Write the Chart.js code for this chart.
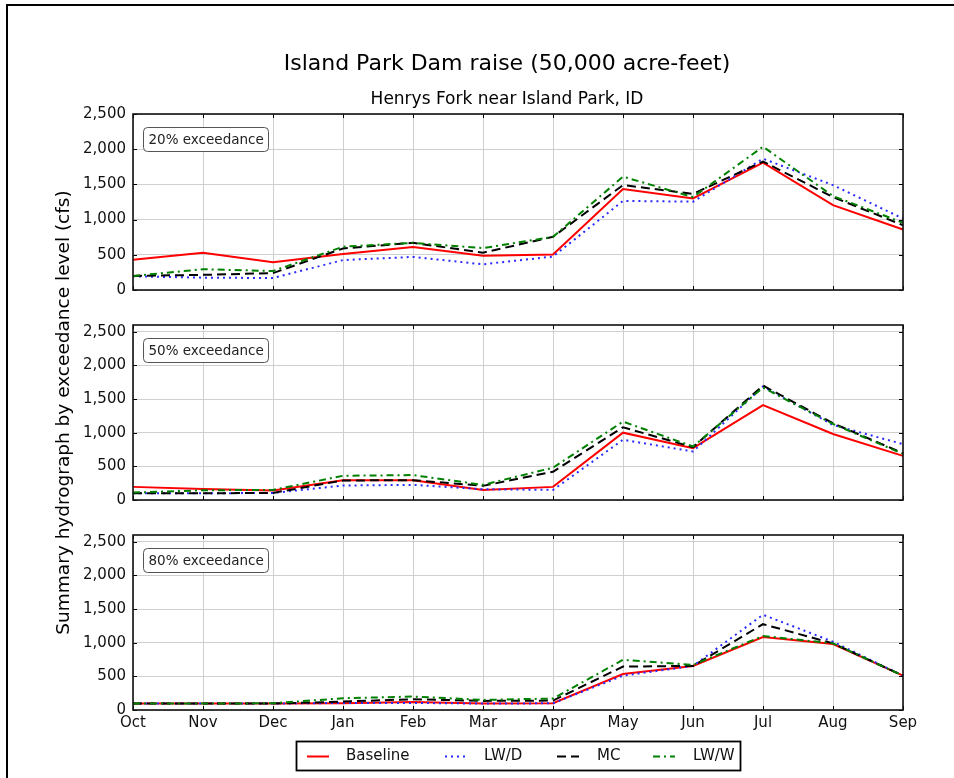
<!DOCTYPE html>
<html>
<head>
<meta charset="utf-8">
<title>Island Park Dam raise</title>
<script src="https://cdn.jsdelivr.net/npm/chart.js@4/dist/chart.umd.min.js"></script>
<style>
  html, body { margin: 0; padding: 0; background: #fff; }
  #wrap { position: relative; width: 954px; height: 778px; overflow: hidden; background: #fff; }
  #wrap canvas { position: absolute; left: 0; top: 0; }
  #frame { position: absolute; left: 6px; top: 4px; width: 1000px; height: 800px;
           border-left: 2px solid #000; border-top: 2px solid #000; }
</style>
</head>
<body>
<div id="wrap">
  <div id="frame"></div>
  <canvas id="c20" width="954" height="778"></canvas>
  <canvas id="c50" width="954" height="778"></canvas>
  <canvas id="c80" width="954" height="778"></canvas>
</div>
<script>
// ---- data -------------------------------------------------------------
const months = ['Oct', 'Nov', 'Dec', 'Jan', 'Feb', 'Mar', 'Apr', 'May', 'Jun', 'Jul', 'Aug', 'Sep'];
const seriesNames = ['Baseline', 'LW/D', 'MC', 'LW/W'];
const panelLabels = ['20% exceedance', '50% exceedance', '80% exceedance'];
const yTicks = [0, 500, 1000, 1500, 2000, 2500];
const figureTitle = 'Island Park Dam raise (50,000 acre-feet)';
const figureSubtitle = 'Henrys Fork near Island Park, ID';
const yAxisTitle = 'Summary hydrograph by exceedance level (cfs)';

// 20% exceedance (cfs)
const p20Baseline = [430, 530, 395, 510, 610, 485, 505, 1435, 1300, 1810, 1205, 860];
const p20LWD      = [195, 175, 170, 425, 470, 365, 475, 1265, 1255, 1865, 1490, 1015];
const p20MC       = [200, 215, 240, 590, 670, 530, 755, 1490, 1365, 1825, 1320, 920];
const p20LWW      = [200, 295, 270, 615, 670, 595, 755, 1610, 1320, 2035, 1335, 955];

// 50% exceedance (cfs)
const p50Baseline = [195, 165, 140, 295, 295, 150, 195, 1000, 770, 1410, 980, 655];
const p50LWD      = [100, 100, 105, 215, 225, 160, 150, 895, 720, 1685, 1115, 830];
const p50MC       = [100, 100, 105, 290, 295, 210, 420, 1080, 785, 1700, 1140, 695];
const p50LWW      = [110, 145, 150, 360, 370, 225, 480, 1165, 795, 1670, 1130, 685];

// 80% exceedance (cfs)
const p80Baseline = [95, 95, 95, 100, 120, 95, 100, 535, 655, 1085, 980, 510];
const p80LWD      = [95, 95, 95, 105, 105, 95, 100, 510, 655, 1415, 1015, 510];
const p80MC       = [95, 95, 95, 125, 160, 135, 140, 645, 655, 1275, 990, 510];
const p80LWW      = [95, 95, 100, 175, 200, 150, 170, 745, 670, 1100, 990, 510];

// ---- styling ----------------------------------------------------------
const FONT = "'DejaVu Sans', 'Liberation Sans', sans-serif";
Chart.defaults.font.family = FONT;
Chart.defaults.color = '#000';

const seriesStyles = [
  { borderColor: '#ff0000', borderDash: [],            borderWidth: 2,   order: 3 },
  { borderColor: '#2a2aff', borderDash: [2, 4],        borderWidth: 2,   order: 2 },
  { borderColor: '#000000', borderDash: [9, 5],        borderWidth: 2,   order: 1 },
  { borderColor: '#008000', borderDash: [7, 4, 2, 4],  borderWidth: 2,   order: 0 }
];

function makeDatasets(values) {
  return values.map((vals, i) => Object.assign({
    label: seriesNames[i],
    data: vals,
    fill: false,
    tension: 0,
    pointRadius: 0,
    borderCapStyle: 'butt',
    borderJoinStyle: 'miter'
  }, seriesStyles[i]));
}

// axes frame, inward tick marks and the exceedance tag in each panel
const panelDecor = {
  id: 'panelDecor',
  afterDatasetsDraw(chart, args, opts) {
    const { ctx, chartArea: a, scales: { x, y } } = chart;
    ctx.save();
    ctx.strokeStyle = '#000';
    ctx.lineWidth = 1;
    ctx.setLineDash([]);
    ctx.beginPath();
    y.ticks.forEach(t => {
      const py = Math.round(y.getPixelForValue(t.value)) + 0.5;
      ctx.moveTo(a.left, py);  ctx.lineTo(a.left + 4, py);
      ctx.moveTo(a.right, py); ctx.lineTo(a.right - 4, py);
    });
    x.ticks.forEach((t, i) => {
      const px = Math.round(x.getPixelForTick(i)) + 0.5;
      ctx.moveTo(px, a.top);    ctx.lineTo(px, a.top + 4);
      ctx.moveTo(px, a.bottom); ctx.lineTo(px, a.bottom - 4);
    });
    ctx.stroke();
    ctx.lineWidth = 1.6;
    ctx.strokeStyle = '#111';
    ctx.strokeRect(a.left, a.top, a.width, a.height);

    // tag box
    const bx = a.left + 10.5, by = a.top + 13.5, bw = 125, bh = 24;
    ctx.beginPath();
    ctx.roundRect(bx, by, bw, bh, 4);
    ctx.fillStyle = '#fff';
    ctx.fill();
    ctx.lineWidth = 1;
    ctx.strokeStyle = '#555';
    ctx.stroke();
    ctx.fillStyle = '#222';
    ctx.font = '13.5px ' + FONT;
    ctx.textAlign = 'left';
    ctx.textBaseline = 'middle';
    ctx.fillText(opts.text, bx + 5, by + bh / 2 + 0.5);
    ctx.restore();
  }
};

// figure title and subtitle above the top panel
const figureTitles = {
  id: 'figureTitles',
  afterDraw(chart) {
    const { ctx } = chart;
    ctx.save();
    ctx.fillStyle = '#000';
    ctx.textAlign = 'center';
    ctx.textBaseline = 'middle';
    ctx.font = '22px ' + FONT;
    ctx.fillText(figureTitle, 507, 64);
    ctx.font = '17px ' + FONT;
    ctx.fillText(figureSubtitle, 507, 100);
    ctx.restore();
  }
};

// boxed legend below the bottom panel
const boxedLegend = {
  id: 'boxedLegend',
  afterDraw(chart) {
    const { ctx } = chart;
    const sampleX = [307, 445, 557, 653];
    const textX = [346, 484, 597, 693];
    const cy = 756;
    ctx.save();
    ctx.fillStyle = '#fff';
    ctx.fillRect(296, 741, 445, 30);
    ctx.strokeStyle = '#000';
    ctx.lineWidth = 1.8;
    ctx.setLineDash([]);
    ctx.strokeRect(296.5, 741.5, 444, 29);
    chart.data.datasets.forEach((ds, i) => {
      ctx.beginPath();
      ctx.strokeStyle = ds.borderColor;
      ctx.lineWidth = ds.borderWidth;
      ctx.setLineDash(ds.borderDash);
      ctx.moveTo(sampleX[i], cy + 0.5);
      ctx.lineTo(sampleX[i] + 22, cy + 0.5);
      ctx.stroke();
      ctx.setLineDash([]);
      ctx.fillStyle = '#111';
      ctx.font = '15px ' + FONT;
      ctx.textAlign = 'left';
      ctx.textBaseline = 'middle';
      ctx.fillText(ds.label, textX[i], cy);
    });
    ctx.restore();
  }
};

function makePanel(canvasId, values, label, area, opts) {
  const gridColor = '#cfcfcf';
  return new Chart(document.getElementById(canvasId), {
    type: 'line',
    data: { labels: months, datasets: makeDatasets(values) },
    plugins: [panelDecor].concat(opts.extraPlugins || []),
    options: {
      responsive: false,
      animation: false,
      devicePixelRatio: 1,
      layout: { padding: { left: 49, right: 51, top: area.top, bottom: area.bottom } },
      plugins: {
        legend: { display: false },
        tooltip: { enabled: false },
        title: { display: false },
        panelDecor: { text: label }
      },
      scales: {
        x: {
          type: 'category',
          offset: false,
          grid: { color: gridColor, lineWidth: 1, drawTicks: false },
          border: { display: false },
          ticks: {
            display: opts.showMonths,
            font: { size: 15 },
            color: '#111',
            padding: 4,
            maxRotation: 0,
            autoSkip: false
          },
          afterFit(s) { s.height = opts.showMonths ? 30 : 0; }
        },
        y: {
          min: 0,
          max: opts.yMax,
          grid: { color: gridColor, lineWidth: 1, drawTicks: false },
          border: { display: false },
          ticks: {
            font: { size: 15 },
            color: '#111',
            padding: 7,
            includeBounds: false,
            callback: v => v.toLocaleString('en-US')
          },
          afterBuildTicks(s) { s.ticks = yTicks.map(v => ({ value: v })); },
          afterFit(s) { s.width = 84; },
          title: {
            display: !!opts.yTitle,
            text: yAxisTitle,
            font: { size: 18.5 },
            color: '#000',
            padding: { top: 4, bottom: 0 }
          }
        }
      }
    }
  });
}

makePanel('c20', [p20Baseline, p20LWD, p20MC, p20LWW], panelLabels[0],
  { top: 114, bottom: 488 }, { yMax: 2500, showMonths: false, extraPlugins: [figureTitles] });
makePanel('c50', [p50Baseline, p50LWD, p50MC, p50LWW], panelLabels[1],
  { top: 325, bottom: 278 }, { yMax: 2600, showMonths: false, yTitle: true });
makePanel('c80', [p80Baseline, p80LWD, p80MC, p80LWW], panelLabels[2],
  { top: 535, bottom: 38 }, { yMax: 2600, showMonths: true, extraPlugins: [boxedLegend] });
</script>
</body>
</html>
